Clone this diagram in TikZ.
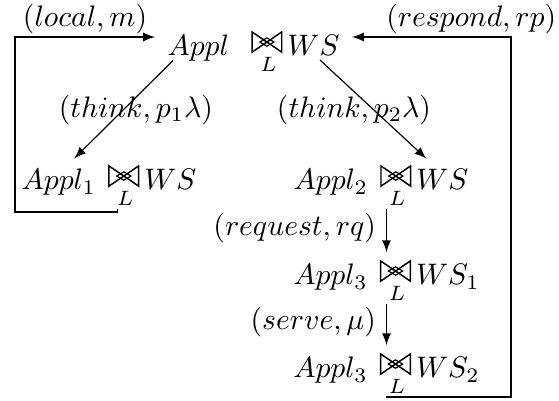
\documentclass[tikz,border=0pt]{standalone}
\usepackage{amsmath}
\usepackage{tikz}

% Kooperationssymbol mit Menge darunter
\newcommand{\coopsym}[1]{\tikz[baseline=0pt,line width=0.5pt]{%
	\draw (0,1.3pt) -- (0,8.1pt) -- (10pt,1.3pt) -- (10pt,8.1pt) -- cycle;
	\draw[line width=0.4pt] (5pt,3.3pt) -- (7.4pt,4.7pt) -- (5pt,6.1pt) -- (2.6pt,4.7pt) -- cycle;
	\node[anchor=north,inner sep=0pt] at (5.5pt,-0.2pt) {$\scriptstyle #1$};}}
\newcommand{\coop}[1]{\mathrel{\mkern2.5mu\coopsym{#1}\mkern-2mu}}

\begin{document}
\begin{tikzpicture}[x=0.337pt,y=-0.337pt,>=latex]
		\tikzset{state/.style={anchor=base,inner xsep=4pt,inner ysep=1pt}}
		\useasboundingbox (0,0) rectangle (559,401);
		
		% Zustaende
		\node[state] (top) at (253.5,56) {$Appl\mkern6mu \coop{L} WS$};
		\node[state] (n1) at (109,190) {$Appl_1 \coop{L} WS$};
		\node[state] (n2) at (381,190) {$Appl_2 \coop{L} WS$};
		\node[state] (n3) at (386.5,285) {$Appl_3 \coop{L} WS_1$};
		\node[state] (n4) at (386.5,378) {$Appl_3 \coop{L} WS_2$};
		
		% Eckpunkte
		\coordinate (lb) at (15,212);
		\coordinate (lt) at (15,37);
		\coordinate (rb) at (511,397);
		\coordinate (rt) at (511,37);
		
		% Uebergaenge
		\draw[->,shorten <=-7pt,shorten >=1.5pt] (top.194.5) -- (n1.148)
			node[pos=0.4,xshift=4.2pt] {$(think, p_1\lambda)$};
		\draw[->,shorten <=-7.4pt,shorten >=1.5pt] (top.344.8) -- (n2.26.6)
			node[pos=0.4,xshift=-6.6pt] {$(think, p_2\lambda)$};
		\draw[->,shorten >=1.5pt] (n3.north |- n2.south) -- (n3.north)
			node[pos=0.4,left] {$(request, rq)$};
		\draw[->,shorten >=1.5pt] (n3.south) -- (n4.north)
			node[pos=0.4,left] {$(serve, \mu)$};
		\draw[->] ([xshift=3pt]n1.south) |- (lb) -- (lt)
			-- node[above,inner sep=1pt] {$(local, m)$} (lt -| top.west);
		\draw[->] (n4.south) |- (rb) -- (rt)
			-- node[pos=0.25,above,inner sep=1pt] {$(respond, rp)$} (rt -| top.east);
	\end{tikzpicture}
\end{document}
